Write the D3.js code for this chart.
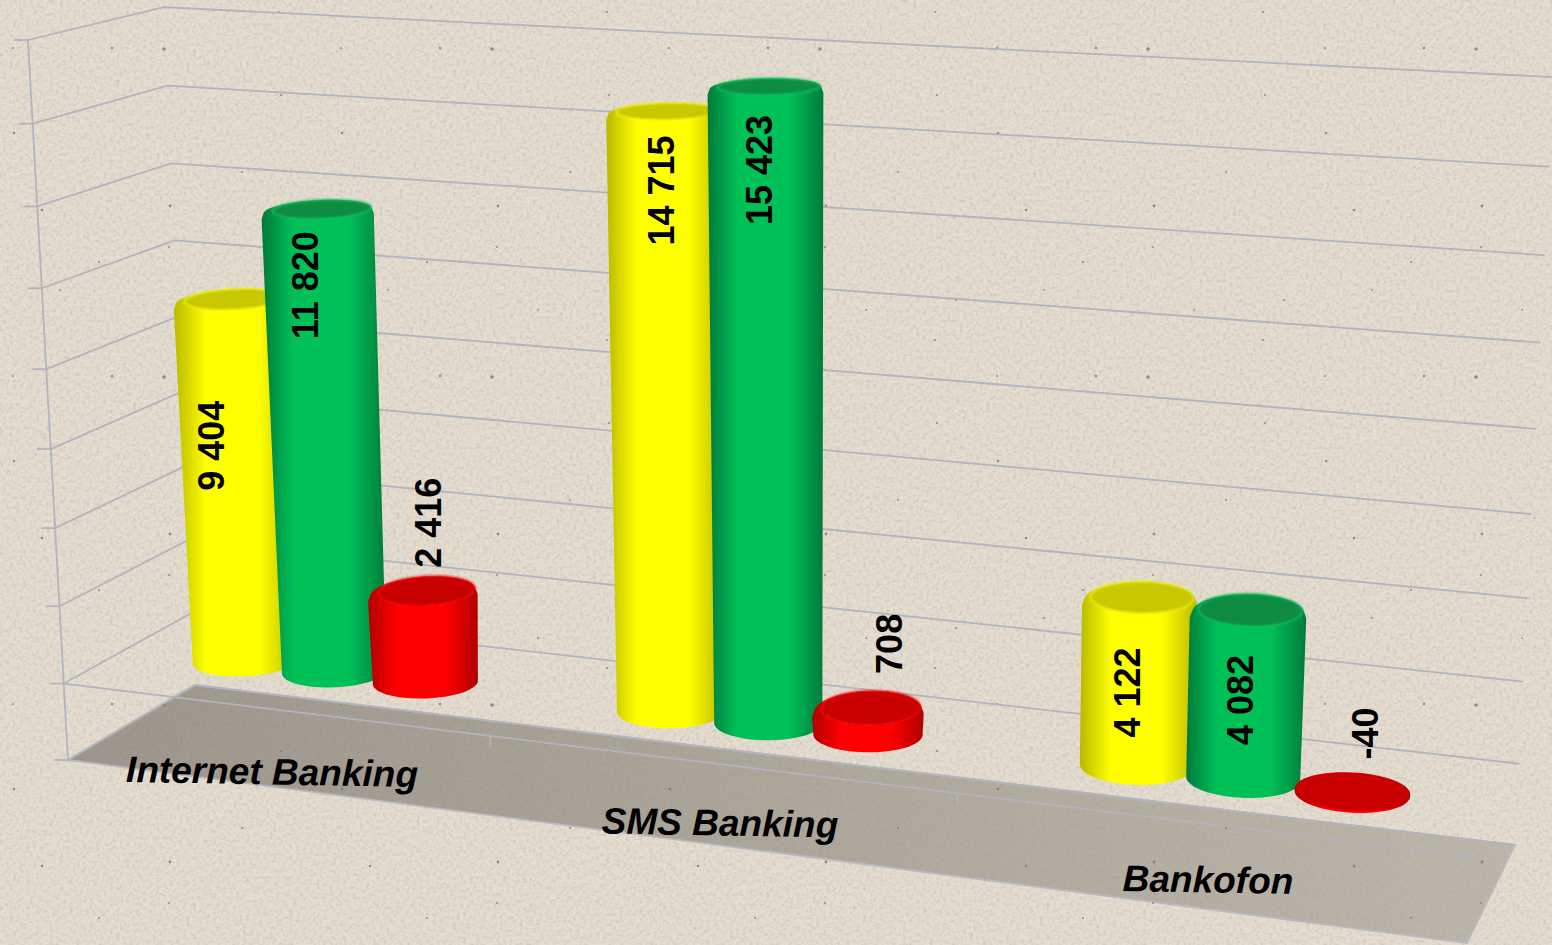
<!DOCTYPE html>
<html><head><meta charset="utf-8">
<script src="https://cdn.jsdelivr.net/npm/d3@7"></script>
<style>html,body{margin:0;padding:0;background:#e3dbcd;overflow:hidden}svg{display:block}text{font-family:"Liberation Sans",Arial,sans-serif;font-weight:bold;fill:#000}</style>
</head><body><svg id="c" width="1552" height="945"></svg>
<script>
// ---- data ----
const categories = ["Internet Banking","SMS Banking","Bankofon"];
const seriesNames = ["A","B","C"];
const valuesA = [9404,14715,4122];
const valuesB = [11820,15423,4082];
const valuesC = [2416,708,-40];
const labelsA = ["9 404","14 715","4 122"];
const labelsB = ["11 820","15 423","4 082"];
const labelsC = ["2 416","708","-40"];
const valueTicks = d3.range(-2000,16001,2000);
const seriesValues=[valuesA,valuesB,valuesC], seriesLabels=[labelsA,labelsB,labelsC];
// ---- style / layout ----
const fills=[{edge:"#b8b800",mid:"#ffff00",top:"#c8c800",rim:"#ffff20"},{edge:"#007a3a",mid:"#00c058",top:"#078c42",rim:"#14d66a"},{edge:"#b00000",mid:"#ff0000",top:"#c80000",rim:"#ff1414"}];
const W=1552,H=945;
const floorQ=[[68,760],[1467,943],[1515,845],[195,685]];
const topFrontLeft=[28,40];
const depthJ=-0.05;
// single camera: floor homography plus one vertical column
function camera(q,tl,j){const [[x0,y0],[x1,y1],[x2,y2],[x3,y3]]=q;
 const dx1=x1-x2,dx2=x3-x2,sx=x0-x1+x2-x3,dy1=y1-y2,dy2=y3-y2,sy=y0-y1+y2-y3,den=dx1*dy2-dx2*dy1;
 const g=(sx*dy2-dx2*sy)/den,h=(dx1*sy-sx*dy1)/den,a=x1-x0+g*x1,b=x3-x0+h*x3,d=y1-y0+g*y1,e=y3-y0+h*y3;
 const bx=tl[0]*(1+j)-x0,by=tl[1]*(1+j)-y0;
 return (u,t,v)=>{const w=g*u+h*v+1+j*t;return[(a*u+b*v+x0+bx*t)/w,(d*u+e*v+y0+by*t)/w];};}
const cam=camera(floorQ,topFrontLeft,depthJ);
const yT=d3.scaleLinear().domain([-2000,16000]).range([0,1]);
const proj=(X,val,Z)=>cam(X,yT(val),Z);
const xBand=d3.scaleBand().domain(categories).range([0,1]);
const xSeries=d3.scalePoint().domain(seriesNames).range([-0.0715,0.0735]);
const rX=0.0372,rZ=0.24,barZ=0.5,bevel=110,shoulder=250,baseZ=.85;
const lab={frac:[[.59,.83,0],[.863,.864,0],[.43,.46,0]],up:[[0,0,66],[0,0,62],[0,0,58]],dx:[[-24,-15,6],[-3,-6,22],[-10,-5,13]]};
const svg=d3.select("#c"),defs=svg.append("defs");
// texture
const tile=defs.append("pattern").attr("id","dots").attr("patternUnits","userSpaceOnUse").attr("width",328).attr("height",328);
const specks=[[164,49,1.8],[112,48,1.3],[281,95,1],[14,133,1.3],[42,210,1.3],[170,206,1.4],[169,247,1],[99,262,1],[242,172,1],[279,12,1],[13,48,1],[300,300,1],[60,290,.9],[210,310,.9]];
specks.forEach(s=>tile.append("circle").attr("cx",s[0]).attr("cy",s[1]).attr("r",s[2]).attr("fill","#7d7568").attr("opacity",.8));
const f=defs.append("filter").attr("id","grain").attr("x",0).attr("y",0).attr("width","100%").attr("height","100%");
f.append("feTurbulence").attr("type","fractalNoise").attr("baseFrequency",.3).attr("numOctaves",2).attr("seed",4).attr("result","n");
f.append("feColorMatrix").attr("in","n").attr("type","matrix").attr("values","0 0 0 0 .5  0 0 0 0 .46  0 0 0 0 .4  1.6 1.6 0 0 -1.42");
const blur=defs.append("filter").attr("id","soft").attr("x","-10%").attr("y","-30%").attr("width","120%").attr("height","160%");
blur.append("feGaussianBlur").attr("stdDeviation",1.2);
svg.append("rect").attr("width",W).attr("height",H).attr("fill","#e5ddd0");
svg.append("rect").attr("width",W).attr("height",H).attr("filter","url(#grain)").attr("opacity",.5);
const line=d3.line();
const gridC="#b0b5bd";
const gGrid=svg.append("g").attr("fill","none").attr("stroke",gridC).attr("stroke-width",1.8);
// floor
const fg=defs.append("linearGradient").attr("id","floorG");
fg.append("stop").attr("offset",0).attr("stop-color","#7b766d");fg.append("stop").attr("offset",1).attr("stop-color","#aaa499");
const fl=[[0,0],[1,0],[1,1],[0,1]].map(p=>proj(p[0],-2000,p[1]));
gGrid.append("path").attr("d",line(fl)+"Z").attr("fill","url(#floorG)").attr("fill-opacity",.68).attr("stroke","#b6bac1");
svg.append("rect").attr("width",W).attr("height",H).attr("fill","url(#dots)");
const gGrid2=svg.append("g").attr("fill","none").attr("stroke",gridC).attr("stroke-width",1.8);
// walls
valueTicks.forEach(v=>{
 gGrid2.append("path").attr("d",line([proj(0,v,0),proj(0,v,1),proj(1,v,1)]));
 const p=proj(0,v,0);
 gGrid2.append("path").attr("d",line([[p[0]-14,p[1]],p]));
});
gGrid2.append("path").attr("d",line([proj(0,16000,0),proj(0,-2000,0)]));
gGrid2.append("path").attr("d",line([proj(0,0,0),proj(1,0,0)]));
d3.range(1,4).forEach(i=>{const p=proj(i/3,0,0);gGrid2.append("path").attr("d",line([p,[p[0],p[1]+11]]));});
// bars
const circle=(X,val,Z,sx,sz)=>d3.range(0,64).map(i=>{const a=i/64*2*Math.PI;return proj(X+rX*sx*Math.cos(a),val,Z+rZ*sz*Math.sin(a));});
const gBars=svg.append("g");
const labelData=[];
categories.forEach((cat,ci)=>{
 seriesNames.forEach((s,si)=>{
  const val=seriesValues[si][ci],X=xBand(cat)+xBand.bandwidth()/2+xSeries(s),c=fills[si];
  const hiV=Math.max(val,0),loV=Math.min(val,0),flat=hiV-loV<100;
  const capV=flat?hiV:hiV-bevel;
  const rings=flat?[circle(X,hiV,barZ,1,baseZ),circle(X,loV,barZ,1,baseZ)]
   :[circle(X,capV,barZ,.96,.97),circle(X,hiV-shoulder,barZ,1,1),circle(X,loV,barZ,1,baseZ)];
  const hull=d3.polygonHull(rings.flat());
  const xs=hull.map(p=>p[0]),x0=d3.min(xs),x1=d3.max(xs);
  const id="g"+ci+si,g=defs.append("linearGradient").attr("id",id).attr("gradientUnits","userSpaceOnUse").attr("x1",x0).attr("x2",x1).attr("y1",0).attr("y2",0);
  [[0,c.edge],[.26,c.mid],[.7,c.mid],[1,c.edge]].forEach(o=>g.append("stop").attr("offset",o[0]).attr("stop-color",o[1]));
  gBars.append("path").attr("d",line(hull)+"Z").attr("fill",`url(#${id})`);
  gBars.append("path").attr("d",line(circle(X,capV,barZ+(flat?0:.034),flat?.985:.9,flat?baseZ*.97:.84))+"Z").attr("fill",c.top)
   .attr("stroke",flat?"none":c.rim).attr("stroke-width",1.5).attr("stroke-opacity",.7).attr("filter",flat?null:"url(#soft)");
  const cTop=proj(X,hiV,barZ),cBase=proj(X,loV,barZ);
  const fr=lab.frac[ci][si];
  const ly=fr>0?cBase[1]+(cTop[1]-cBase[1])*fr:cTop[1]-lab.up[ci][si];
  const lx=cBase[0]+(cTop[0]-cBase[0])*(fr>0?fr:1)+lab.dx[ci][si];
  labelData.push({t:seriesLabels[si][ci],x:lx,y:ly});
 });
});
svg.append("g").selectAll("text").data(labelData).join("text").text(d=>d.t)
 .attr("text-anchor","middle").attr("dominant-baseline","central").attr("font-size",36)
 .attr("transform",d=>`translate(${d.x},${d.y}) rotate(-90)`);
// category labels
const catAnchor=[[272,772],[720,823],[1208,880]];
svg.append("g").selectAll("text").data(categories).join("text").text(d=>d)
 .attr("text-anchor","middle").attr("dominant-baseline","central").attr("font-size",37).attr("font-style","italic")
 .attr("transform",(d,i)=>`translate(${catAnchor[i]}) rotate(1)`);
</script></body></html>
